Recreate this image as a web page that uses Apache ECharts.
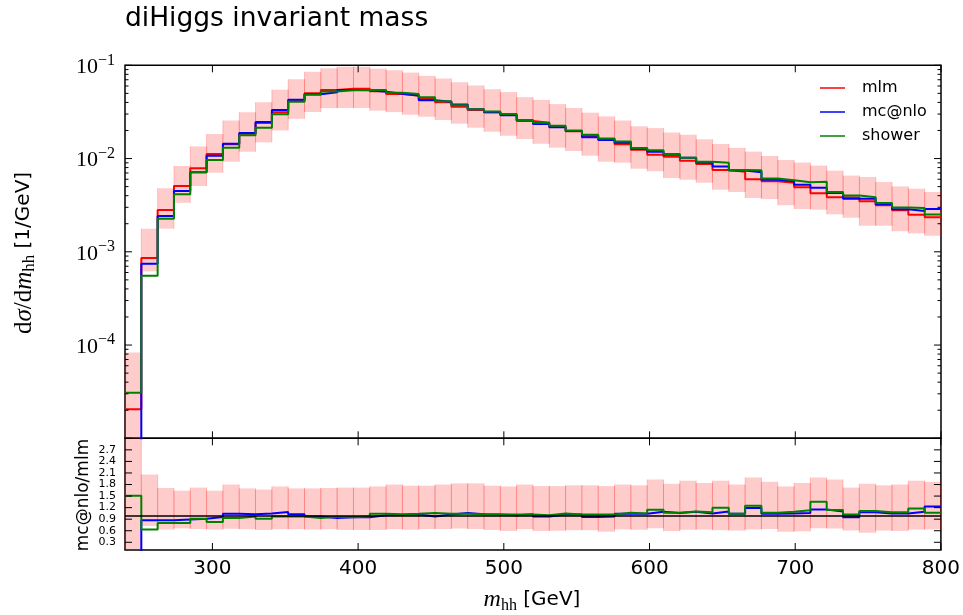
<!DOCTYPE html>
<html><head><meta charset="utf-8">
<script src="https://cdn.jsdelivr.net/npm/echarts@6/dist/echarts.min.js"></script>
<style>html,body{margin:0;padding:0;background:#fff}#c{width:963px;height:615px}</style>
</head><body><div id="c"></div>
<script>
// ---------------- data ----------------
const binEdges = [240, 251.2, 262.4, 273.6, 284.8, 296, 307.2, 318.4, 329.6, 340.8, 352, 363.2, 374.4, 385.6, 396.8, 408, 419.2, 430.4, 441.6, 452.8, 464, 475.2, 486.4, 497.6, 508.8, 520, 531.2, 542.4, 553.6, 564.8, 576, 587.2, 598.4, 609.6, 620.8, 632, 643.2, 654.4, 665.6, 676.8, 688, 699.2, 710.4, 721.6, 732.8, 744, 755.2, 766.4, 777.6, 788.8, 800];

const mlm = [2.05e-5, 8.58e-4, 2.81e-3, 5.08e-3, 7.86e-3, 1.119e-2, 1.422e-2, 1.847e-2, 2.405e-2, 3.13e-2,
  4.17e-2, 5.01e-2, 5.43e-2, 5.61e-2, 5.61e-2, 5.26e-2, 4.92e-2, 4.72e-2, 4.35e-2, 4.01e-2,
  3.60e-2, 3.32e-2, 3.13e-2, 2.95e-2, 2.53e-2, 2.42e-2, 2.18e-2, 1.96e-2, 1.745e-2, 1.609e-2,
  1.422e-2, 1.245e-2, 1.10e-2, 1.046e-2, 9.48e-3, 8.74e-3, 7.54e-3, 7.23e-3, 5.99e-3, 5.70e-3,
  5.51e-3, 4.92e-3, 4.24e-3, 3.84e-3, 3.82e-3, 3.48e-3, 3.15e-3, 2.79e-3, 2.50e-3, 2.34e-3];

const mcnlo = [0, 7.45e-4, 2.42e-3, 4.49e-3, 7.12e-3, 1.073e-2, 1.443e-2, 1.879e-2, 2.466e-2, 3.32e-2,
  4.28e-2, 4.89e-2, 5.13e-2, 5.43e-2, 5.39e-2, 5.21e-2, 4.96e-2, 4.75e-2, 4.22e-2, 4.06e-2,
  3.79e-2, 3.38e-2, 3.14e-2, 2.92e-2, 2.57e-2, 2.35e-2, 2.16e-2, 1.98e-2, 1.69e-2, 1.58e-2,
  1.475e-2, 1.27e-2, 1.18e-2, 1.096e-2, 1.02e-2, 9.07e-3, 8.24e-3, 7.44e-3, 7.12e-3, 5.91e-3,
  5.72e-3, 5.23e-3, 4.87e-3, 4.26e-3, 3.70e-3, 3.71e-3, 3.23e-3, 2.86e-3, 2.74e-3, 2.88e-3];

const shower = [3.08e-5, 5.54e-4, 2.26e-3, 4.14e-3, 7.12e-3, 9.65e-3, 1.307e-2, 1.775e-2, 2.14e-2, 2.98e-2,
  4.07e-2, 4.84e-2, 5.24e-2, 5.39e-2, 5.43e-2, 5.43e-2, 5.07e-2, 4.91e-2, 4.54e-2, 4.11e-2,
  3.73e-2, 3.37e-2, 3.20e-2, 3.01e-2, 2.58e-2, 2.42e-2, 2.25e-2, 2.00e-2, 1.80e-2, 1.64e-2,
  1.52e-2, 1.297e-2, 1.226e-2, 1.122e-2, 1.021e-2, 9.25e-3, 9.03e-3, 7.54e-3, 7.48e-3, 6.10e-3,
  5.84e-3, 5.56e-3, 5.63e-3, 4.38e-3, 4.02e-3, 3.84e-3, 3.34e-3, 2.99e-3, 2.95e-3, 2.51e-3];

// ratio panel values
const ratioNlo = [0, 0.87, 0.87, 0.89, 0.91, 0.955, 1.04, 1.03, 1.05, 1.085,
  1.03, 0.97, 0.93, 0.95, 0.95, 1.0, 1.01, 1.02, 0.97, 1.02,
  1.06, 1.03, 1.02, 1.0, 1.03, 0.97, 1.02, 1.02, 0.955, 0.97,
  1.04, 1.04, 1.09, 1.06, 1.09, 1.05, 1.10, 1.04, 1.19, 1.04,
  1.05, 1.06, 1.15, 1.10, 0.95, 1.08, 1.05, 1.05, 1.09, 1.23];

const ratioShower = [1.51, 0.63, 0.80, 0.80, 0.91, 0.83, 0.93, 0.97, 0.91, 0.97,
  0.97, 0.93, 0.96, 0.95, 0.97, 1.04, 1.03, 1.04, 1.06, 1.04,
  1.04, 1.03, 1.02, 1.02, 1.02, 1.0, 1.05, 1.02, 1.02, 1.02,
  1.07, 1.05, 1.146, 1.07, 1.10, 1.08, 1.20, 1.04, 1.25, 1.07,
  1.09, 1.13, 1.35, 1.14, 1.02, 1.11, 1.08, 1.08, 1.18, 1.07];

// mlm uncertainty band, relative to mlm
const bandHi = [4.05, 2.06, 1.71, 1.64, 1.72, 1.64, 1.80, 1.70, 1.67, 1.75,
  1.70, 1.70, 1.71, 1.72, 1.72, 1.75, 1.80, 1.77, 1.77, 1.80,
  1.83, 1.83, 1.77, 1.75, 1.80, 1.76, 1.76, 1.78, 1.78, 1.76,
  1.80, 1.78, 1.93, 1.82, 1.90, 1.84, 1.90, 1.80, 1.98, 1.87,
  1.75, 1.84, 1.98, 1.93, 1.72, 1.82, 1.78, 1.80, 1.90, 1.87];
const bandLo = [0, 0.72, 0.63, 0.66, 0.645, 0.63, 0.65, 0.64, 0.62, 0.64,
  0.64, 0.63, 0.64, 0.62, 0.62, 0.62, 0.64, 0.625, 0.645, 0.645,
  0.657, 0.645, 0.62, 0.595, 0.64, 0.595, 0.60, 0.615, 0.615, 0.575,
  0.635, 0.625, 0.664, 0.59, 0.625, 0.63, 0.615, 0.605, 0.63, 0.645,
  0.573, 0.585, 0.667, 0.657, 0.607, 0.547, 0.604, 0.595, 0.63, 0.635];

const xTicks = [300, 400, 500, 600, 700, 800];
const yMainTicks = [1e-5, 1e-4, 1e-3, 1e-2, 1e-1];
const ratioTicks = [0.3, 0.6, 0.9, 1.2, 1.5, 1.8, 2.1, 2.4, 2.7];
const seriesNames = ['mlm', 'mc@nlo', 'shower'];
const seriesColors = ['#ff0000', '#0000ff', '#008000'];

// ---------------- layout ----------------
const X0 = 240, X1 = 800, YMIN = 1e-5, YMAX = 1e-1, RMIN = 0.1, RMAX = 3.0;
const G0 = {left: 125, right: 22, top: 65.3, height: 373};
const G1 = {left: 125, right: 22, top: 438.3, height: 111.7};

const chart = echarts.init(document.getElementById('c'), null, {renderer: 'canvas', width: 963, height: 615});

const clamp = (v, a, b) => Math.min(b, Math.max(a, v));
const posLog = v => (v > 0 ? v : 1e-12);

function stepData(arr, f) {
  const d = arr.map((v, i) => [binEdges[i], f ? f(v) : v]);
  d.push([binEdges[binEdges.length - 1], f ? f(arr[arr.length - 1]) : arr[arr.length - 1]]);
  return d;
}

// band items: [x0, x1, lo, hi]
const bandMain = mlm.map((v, i) => [binEdges[i], binEdges[i + 1], clamp(v * bandLo[i], YMIN, YMAX), clamp(v * bandHi[i], YMIN, YMAX)]);
const bandRatio = bandLo.map((v, i) => [binEdges[i], binEdges[i + 1], clamp(v, RMIN, RMAX), clamp(bandHi[i], RMIN, RMAX)]);

function renderBand(params, api) {
  const p0 = api.coord([api.value(0), api.value(3)]);
  const p1 = api.coord([api.value(1), api.value(2)]);
  const st = {fill: 'none', stroke: 'rgba(255,0,0,0.2)', lineWidth: 1};
  return {type: 'group', children: [
    {type: 'rect', shape: {x: p0[0], y: p0[1], width: p1[0] - p0[0], height: p1[1] - p0[1]}, style: {fill: 'rgba(255,0,0,0.2)'}},
    {type: 'line', shape: {x1: p0[0], y1: p0[1], x2: p0[0], y2: p1[1]}, style: st},
    {type: 'line', shape: {x1: p1[0], y1: p0[1], x2: p1[0], y2: p1[1]}, style: st}
  ]};
}

// tick marks: [xValue, yValue, dxPx, dyPx]
const mainTickData = [];
yMainTicks.forEach(v => { mainTickData.push([X0, v, 7, 0]); mainTickData.push([X1, v, -7, 0]); });
for (let e = -5; e < -1; e++) for (let k = 2; k <= 9; k++) {
  const v = k * Math.pow(10, e);
  mainTickData.push([X0, v, 3.5, 0]); mainTickData.push([X1, v, -3.5, 0]);
}
xTicks.forEach(x => { mainTickData.push([x, YMIN, 0, -7]); mainTickData.push([x, YMAX, 0, 7]); });
const ratioTickData = [];
ratioTicks.forEach(v => { ratioTickData.push([X0, v, 7, 0]); ratioTickData.push([X1, v, -7, 0]); });
xTicks.forEach(x => { ratioTickData.push([x, RMIN, 0, -7]); ratioTickData.push([x, RMAX, 0, 7]); });

function renderTick(params, api) {
  const p = api.coord([api.value(0), api.value(1)]);
  return {type: 'line', shape: {x1: p[0], y1: p[1], x2: p[0] + api.value(2), y2: p[1] + api.value(3)}, style: {stroke: '#000', lineWidth: 1}};
}

// ---------------- text helpers ----------------
const mctx = document.createElement('canvas').getContext('2d');
function mathText(tokens, x, y, rotation) {
  let w = 0;
  const widths = tokens.map(t => { mctx.font = t.font; const ww = mctx.measureText(t.t).width; w += ww; return ww; });
  let cx = -w / 2;
  const children = tokens.map((t, i) => {
    const el = {type: 'text', x: cx, y: t.dy || 0, style: {text: t.t, font: t.font, fill: '#000', align: 'left', verticalAlign: 'middle'}};
    cx += widths[i];
    return el;
  });
  return {type: 'group', x: x, y: y, rotation: rotation || 0, children: children, silent: true};
}
const SERIF = "'Liberation Serif', 'DejaVu Serif', serif";
const SANS = "'DejaVu Sans', sans-serif";

const graphics = [
  {type: 'text', x: 125, y: 6, style: {text: 'diHiggs invariant mass', font: '26.5px ' + SANS, fill: '#000'}},
  mathText([
    {t: 'd', font: '25px ' + SERIF},
    {t: 'σ', font: 'italic 25px ' + SERIF},
    {t: '/d', font: '25px ' + SERIF},
    {t: 'm', font: 'italic 25px ' + SERIF},
    {t: 'hh', font: '17px ' + SERIF, dy: 6},
    {t: ' [1/GeV]', font: '20px ' + SANS, dy: 0}
  ], 24, 253, Math.PI / 2),
  mathText([{t: 'mc@nlo/mlm', font: '17px ' + SANS}], 84, 495, Math.PI / 2),
  mathText([
    {t: 'm', font: 'italic 24px ' + SERIF},
    {t: 'hh', font: '16px ' + SERIF, dy: 6},
    {t: ' [GeV]', font: '20px ' + SANS}
  ], 532, 600, 0)
];
const legY = [88, 112, 136];
seriesNames.forEach((n, i) => {
  graphics.push({type: 'line', shape: {x1: 820, y1: legY[i], x2: 845, y2: legY[i]}, style: {stroke: seriesColors[i], lineWidth: 1.5}});
  graphics.push({type: 'text', x: 862, y: legY[i], style: {text: n, font: '16px ' + SANS, fill: '#000', verticalAlign: 'middle'}});
});

const lineSeries = (name, arr, color, xi, f, z) => ({
  name: name, type: 'line', step: 'end', xAxisIndex: xi, yAxisIndex: xi, data: stepData(arr, f),
  showSymbol: false, symbol: 'none', clip: true, z: z,
  lineStyle: {color: color, width: 2}, itemStyle: {color: color}, silent: true
});

const option = {
  animation: false,
  backgroundColor: '#fff',
  grid: [
    Object.assign({show: true, borderColor: '#000', borderWidth: 1.5, backgroundColor: 'transparent'}, G0),
    Object.assign({show: true, borderColor: '#000', borderWidth: 1.5, backgroundColor: 'transparent'}, G1)
  ],
  xAxis: [
    {type: 'value', gridIndex: 0, min: X0, max: X1, axisLine: {show: false}, axisTick: {show: false}, axisLabel: {show: false}, splitLine: {show: false}},
    {type: 'value', gridIndex: 1, min: X0, max: X1, axisLine: {show: false}, axisTick: {show: false}, splitLine: {show: false},
      axisLabel: {customValues: xTicks, fontSize: 20, fontFamily: 'DejaVu Sans', color: '#000', margin: 9}}
  ],
  yAxis: [
    {type: 'log', logBase: 10, gridIndex: 0, min: YMIN, max: YMAX, axisLine: {show: false}, axisTick: {show: false}, splitLine: {show: false},
      axisLabel: {color: '#000', margin: 10,
        formatter: v => { const e = Math.round(Math.log10(v)); if (e <= -5) return ''; return '{b|10}{s|\u2212' + (-e) + '}'; },
        rich: {b: {fontFamily: 'Liberation Serif', fontSize: 22, lineHeight: 26, verticalAlign: 'bottom', color: '#000'},
               s: {fontFamily: 'Liberation Serif', fontSize: 16, lineHeight: 26, verticalAlign: 'top', color: '#000'}}}},
    {type: 'value', gridIndex: 1, min: RMIN, max: RMAX, axisLine: {show: false}, axisTick: {show: false}, splitLine: {show: false},
      axisLabel: {customValues: ratioTicks, formatter: v => v.toFixed(1), fontSize: 11, fontFamily: 'DejaVu Sans', color: '#000', margin: 9}}
  ],
  series: [
    {type: 'custom', xAxisIndex: 0, yAxisIndex: 0, data: bandMain, renderItem: renderBand, encode: {x: [0, 1], y: [2, 3]}, silent: true, z: 1},
    lineSeries('mlm', mlm, seriesColors[0], 0, posLog, 3),
    lineSeries('mc@nlo', mcnlo, seriesColors[1], 0, posLog, 4),
    lineSeries('shower', shower, seriesColors[2], 0, posLog, 5),
    {type: 'custom', xAxisIndex: 0, yAxisIndex: 0, data: mainTickData, renderItem: renderTick, encode: {x: 0, y: 1}, silent: true, z: 10},

    {type: 'custom', xAxisIndex: 1, yAxisIndex: 1, data: bandRatio, renderItem: renderBand, encode: {x: [0, 1], y: [2, 3]}, silent: true, z: 1},
    Object.assign(lineSeries('mc@nlo/mlm', ratioNlo, seriesColors[1], 1, null, 4), {
      markLine: {silent: true, symbol: 'none', label: {show: false}, lineStyle: {color: '#000', width: 1.5, type: 'solid'}, data: [{yAxis: 1}], z: 8}
    }),
    lineSeries('shower/mlm', ratioShower, seriesColors[2], 1, null, 5),
    {type: 'custom', xAxisIndex: 1, yAxisIndex: 1, data: ratioTickData, renderItem: renderTick, encode: {x: 0, y: 1}, silent: true, z: 10}
  ],
  graphic: graphics
};
chart.setOption(option);
</script>
</body></html>
